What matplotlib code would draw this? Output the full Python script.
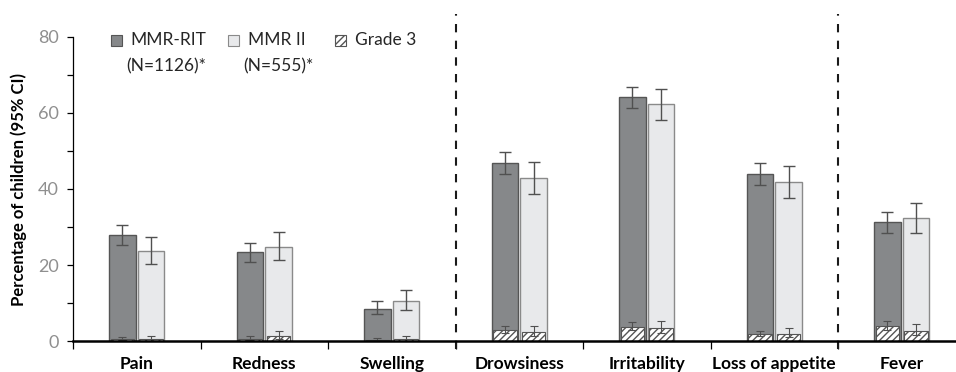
import matplotlib
matplotlib.use("Agg")
import matplotlib.pyplot as plt
from matplotlib.patches import Rectangle
import numpy as np

plt.rcParams['font.family'] = ['Lato', 'DejaVu Sans']
plt.rcParams['hatch.linewidth'] = 1.0

categories = ["Pain", "Redness", "Swelling", "Drowsiness", "Irritability",
              "Loss of appetite", "Fever"]

# overall percentages with 95% CI
rit = [27.8, 23.3, 8.5, 46.8, 64.1, 43.9, 31.2]
rit_lo = [25.2, 20.7, 7.2, 44.0, 61.3, 41.0, 28.4]
rit_hi = [30.5, 25.8, 10.4, 49.7, 66.8, 46.8, 33.9]
mmr2 = [23.8, 24.8, 10.4, 42.9, 62.3, 41.8, 32.4]
mmr2_lo = [20.2, 21.2, 8.1, 38.8, 58.1, 37.7, 28.4]
mmr2_hi = [27.5, 28.7, 13.3, 47.1, 66.3, 46.1, 36.4]

# grade 3 percentages with 95% CI
rit_g3 = [0.5, 0.6, 0.2, 2.8, 3.8, 1.9, 3.9]
rit_g3_lo = [0.2, 0.2, 0.0, 2.0, 2.8, 1.2, 2.9]
rit_g3_hi = [1.1, 1.2, 0.7, 4.0, 5.0, 2.6, 5.3]
mmr2_g3 = [0.4, 1.3, 0.4, 2.4, 3.5, 1.9, 2.7]
mmr2_g3_lo = [0.0, 0.5, 0.0, 1.2, 2.2, 1.0, 1.6]
mmr2_g3_hi = [1.2, 2.7, 1.2, 4.0, 5.3, 3.3, 4.5]

dark = "#86888a"
light = "#e8e9eb"
err_col = "#505050"

fig = plt.figure(figsize=(9.56, 3.72), dpi=100)
ax = fig.add_axes([73 / 956, 31 / 372, 892.5 / 956, 304 / 372])

x = np.arange(len(categories))
w = 0.21
off = 0.112
wg = 0.185

def draw(vals, lo, hi, pos, face, edge):
    vals = np.array(vals)
    ax.bar(pos, vals, w, color=face, edgecolor=edge, linewidth=1.0, zorder=2)
    ax.errorbar(pos, vals, yerr=[vals - np.array(lo), np.array(hi) - vals],
                fmt="none", ecolor=err_col, elinewidth=1.0, capsize=4,
                capthick=1.0, zorder=4)

def draw_g3(vals, lo, hi, pos):
    vals = np.array(vals)
    ax.bar(pos, vals, wg, color="white", edgecolor="#555555", hatch="/////",
           linewidth=0.8, zorder=3)
    ax.errorbar(pos, vals, yerr=[vals - np.array(lo), np.array(hi) - vals],
                fmt="none", ecolor=err_col, elinewidth=0.8, capsize=3,
                capthick=0.8, zorder=4)

draw(rit, rit_lo, rit_hi, x - off, dark, "#555555")
draw(mmr2, mmr2_lo, mmr2_hi, x + off, light, "#8a8a8a")
draw_g3(rit_g3, rit_g3_lo, rit_g3_hi, x - off)
draw_g3(mmr2_g3, mmr2_g3_lo, mmr2_g3_hi, x + off)

ax.set_xlim(-0.5, len(categories) - 0.5)
ax.set_ylim(0, 80)

# dashed separators between local / systemic / fever
for b in [2.5, 5.5]:
    ax.plot([b, b], [-2, 86], ls=(0, (4, 4)), color="#1a1a1a", lw=1.5,
            clip_on=False, zorder=5)

for s in ["top", "right"]:
    ax.spines[s].set_visible(False)
ax.spines["bottom"].set_linewidth(1.8)
ax.spines["left"].set_linewidth(0.9)
ax.spines["bottom"].set_zorder(6)

ax.set_yticks([0, 20, 40, 60, 80])
ax.set_yticks([10, 30, 50, 70], minor=True)
ax.tick_params(axis="y", which="both", direction="out", length=4, width=0.9,
               labelsize=13, labelcolor="#8f8f8f", pad=6)

ax.set_xticks(x)
ax.set_xticklabels(categories, fontweight="bold", fontsize=12.5)
ax.set_xticks(np.arange(-0.5, len(categories), 1.0), minor=True)
ax.tick_params(axis="x", which="major", length=0, pad=11)
ax.tick_params(axis="x", which="minor", direction="out", length=6, width=0.9)

ax.set_ylabel("Percentage of children (95% CI)", fontweight="bold",
              fontsize=12, labelpad=8)

# legend drawn by hand to keep two-line labels
tr = ax.transAxes
sq_w, sq_h = 11 / 892.5, 11 / 304
leg = [(0.0424, dark, "#555555", None, "MMR-RIT", "(N=1126)*"),
       (0.1737, light, "#8a8a8a", None, "MMR II", "(N=555)*"),
       (0.2935, "white", "#555555", "/////", "Grade 3", None)]
for lx, fc, ec, hatch, l1, l2 in leg:
    ax.add_patch(Rectangle((lx, 0.99 - sq_h / 2), sq_w, sq_h, transform=tr,
                           facecolor=fc, edgecolor=ec, hatch=hatch,
                           linewidth=0.8, clip_on=False))
    ax.text(lx + sq_w + 0.010, 0.99, l1, transform=tr, fontsize=12.5,
            va="center", ha="left", color="#262626")
    if l2:
        ax.text(lx + sq_w + 0.005, 0.905, l2, transform=tr, fontsize=12.5,
                va="center", ha="left", color="#262626")

fig.savefig("out.png", dpi=100)
